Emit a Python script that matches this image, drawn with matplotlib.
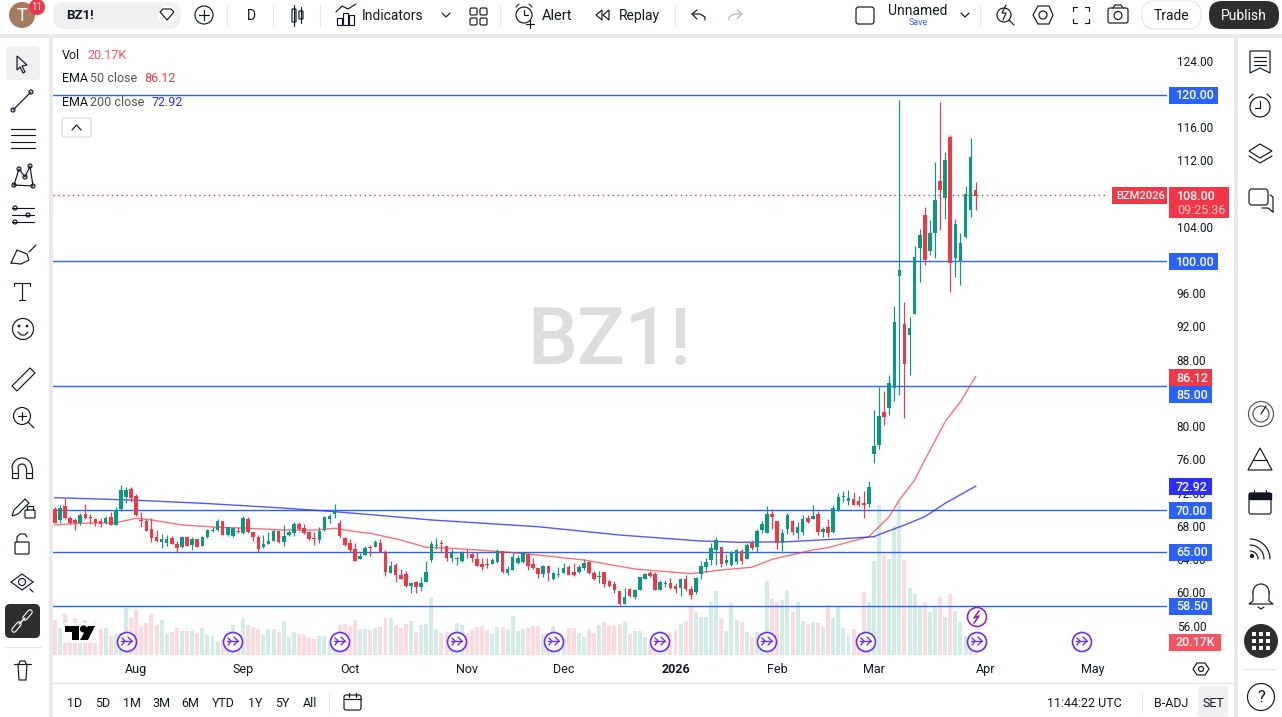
import matplotlib
matplotlib.use("Agg")
import matplotlib.pyplot as plt
import numpy as np
from matplotlib.patches import Circle, FancyBboxPatch, Polygon, Rectangle
from matplotlib.transforms import ScaledTranslation

plt.rcParams["font.family"] = ["Roboto", "DejaVu Sans"]

# ---------------- Chart data ----------------
highs = [
    70.38, 70.62, 71.46, 69.34, 69.06, 69.66, 70.78, 69.58, 69.06, 69.06,
    69.34, 69.82, 70.38, 73.07, 72.78, 72.78, 71.94, 69.86, 68.94, 69.06,
    67.65, 67.13, 67.05, 66.97, 66.29, 66.93, 66.97, 66.85, 66.57, 66.97,
    67.77, 68.05, 68.94, 68.73, 68.05, 68.05, 68.05, 69.38, 69.18, 67.41,
    67.05, 67.05, 67.41, 67.77, 67.57, 68.25, 67.65, 68.57, 68.57, 68.37,
    67.53, 67.41, 68.05, 69.34, 69.54, 70.78, 68.82, 66.81, 66.53, 66.05,
    64.89, 65.73, 65.81, 66.45, 66.57, 65.25, 63.89, 63.69, 62.93, 62.72,
    61.44, 61.52, 61.96, 63.93, 66.37, 66.65, 66.45, 65.73, 65.33, 64.45,
    65.09, 65.33, 64.85, 64.97, 64.25, 64.25, 64.25, 65.33, 65.13, 63.33,
    64.85, 64.65, 64.97, 64.85, 64.25, 63.05, 63.45, 63.33, 62.64, 63.25,
    63.73, 63.41, 63.65, 63.45, 64.13, 63.93, 62.72, 62.76, 62.60, 61.64,
    61.48, 60.32, 60.64, 60.68, 60.56, 62.04, 62.48, 62.68, 62.56, 61.60,
    61.68, 61.88, 61.32, 61.88, 62.24, 60.92, 61.96, 63.97, 64.33, 66.05,
    66.78, 65.61, 64.77, 65.13, 65.37, 65.37, 66.05, 66.46, 67.74, 68.70,
    70.51, 70.14, 68.74, 67.78, 69.70, 68.86, 68.66, 69.46, 69.42, 70.63,
    69.94, 68.02, 68.98, 70.63, 72.11, 72.35, 72.47, 72.23, 71.75, 72.31,
    73.55, 82.10, 84.91, 84.39, 86.31, 94.61, 119.40, 95.09, 93.29, 101.83,
    103.88, 106.52, 104.96, 111.94, 119.16, 113.14, 115.19, 105.08, 103.40, 109.05,
    114.83, 109.53,
]
lows = [
    68.45, 68.53, 68.94, 68.37, 67.65, 68.25, 69.02, 68.37, 68.13, 68.05,
    68.37, 68.25, 68.25, 69.98, 70.94, 71.02, 69.34, 67.97, 67.53, 66.25,
    66.25, 65.53, 65.73, 65.97, 65.01, 65.49, 65.73, 65.29, 65.57, 65.73,
    66.69, 67.37, 67.57, 67.05, 66.97, 66.81, 67.25, 67.21, 67.33, 66.37,
    65.01, 65.45, 65.97, 66.29, 66.13, 65.73, 66.93, 66.97, 67.57, 67.17,
    66.45, 65.85, 66.09, 67.53, 68.45, 69.10, 66.73, 65.73, 65.01, 63.92,
    64.16, 64.64, 64.52, 65.57, 64.97, 62.12, 62.44, 61.40, 61.72, 60.84,
    60.12, 60.12, 60.32, 61.40, 63.85, 65.37, 65.01, 63.97, 63.85, 63.45,
    63.85, 64.25, 63.85, 63.33, 62.89, 63.05, 63.53, 63.73, 62.48, 62.24,
    62.85, 63.57, 63.65, 62.89, 63.01, 61.92, 61.96, 61.52, 61.64, 61.96,
    62.48, 62.20, 62.12, 62.48, 62.85, 62.40, 61.64, 61.32, 60.84, 60.80,
    60.12, 58.63, 58.75, 59.56, 59.40, 60.40, 61.72, 62.04, 60.44, 60.44,
    60.84, 60.60, 60.04, 59.72, 60.36, 59.36, 60.00, 61.76, 62.64, 63.49,
    63.49, 63.25, 63.41, 63.29, 63.57, 63.57, 64.17, 65.25, 65.05, 67.34,
    67.34, 67.78, 65.37, 65.13, 67.14, 67.10, 66.58, 67.06, 68.50, 68.98,
    67.10, 66.82, 66.86, 67.30, 69.90, 71.03, 70.71, 70.63, 70.55, 69.14,
    70.43, 75.77, 77.41, 80.30, 81.50, 83.18, 83.90, 81.14, 86.31, 93.65,
    97.50, 99.55, 100.75, 100.39, 103.76, 105.08, 96.34, 98.10, 97.14, 102.80,
    105.32, 106.16,
]
opens = [
    70.14, 68.86, 70.54, 69.10, 68.85, 68.45, 69.58, 69.18, 68.98, 68.73,
    68.53, 69.22, 68.29, 70.14, 71.58, 72.62, 71.74, 68.86, 68.77, 67.77,
    66.81, 66.21, 66.05, 66.69, 65.97, 65.61, 66.85, 65.85, 66.57, 65.73,
    66.81, 67.57, 67.61, 68.73, 67.01, 66.89, 67.53, 67.29, 68.98, 67.41,
    66.81, 65.57, 65.97, 66.33, 67.53, 66.21, 67.01, 67.29, 68.37, 67.89,
    67.41, 66.69, 66.45, 67.61, 68.98, 69.58, 68.49, 66.69, 66.09, 65.33,
    64.16, 64.68, 65.57, 65.61, 66.09, 65.01, 62.48, 63.49, 62.24, 62.36,
    60.96, 61.44, 60.80, 61.40, 64.05, 65.73, 66.09, 65.73, 64.33, 64.21,
    63.97, 65.05, 64.77, 64.21, 63.57, 63.61, 63.61, 63.81, 65.13, 62.52,
    62.85, 63.73, 63.81, 64.73, 63.57, 63.05, 62.40, 63.33, 61.76, 62.28,
    62.52, 63.21, 62.64, 62.56, 63.09, 63.85, 62.48, 62.00, 62.60, 61.48,
    61.20, 60.32, 58.79, 60.56, 59.56, 60.48, 61.80, 62.48, 62.36, 60.48,
    61.12, 61.28, 60.92, 60.68, 61.76, 60.56, 60.16, 62.40, 63.21, 64.05,
    65.25, 65.61, 63.69, 63.49, 63.81, 65.13, 64.21, 66.14, 65.61, 67.66,
    67.34, 69.58, 68.74, 66.14, 67.78, 68.74, 67.30, 67.42, 69.06, 69.02,
    69.58, 67.42, 68.02, 67.42, 69.94, 71.63, 71.19, 71.39, 71.15, 70.91,
    70.79, 76.81, 77.89, 81.86, 82.34, 84.75, 98.22, 92.45, 91.12, 93.65,
    101.59, 105.56, 101.23, 103.40, 109.65, 107.61, 114.95, 100.39, 99.91, 102.92,
    106.16, 108.57,
]
closes = [
    68.53, 70.34, 69.06, 68.45, 68.45, 69.50, 69.10, 69.10, 68.45, 68.37,
    69.10, 68.29, 70.06, 72.46, 72.46, 71.50, 69.46, 68.77, 67.53, 66.69,
    66.33, 66.53, 66.57, 66.01, 65.53, 66.81, 65.77, 66.57, 65.61, 66.77,
    67.65, 67.65, 68.73, 67.09, 67.97, 67.93, 67.41, 69.10, 67.41, 66.81,
    65.41, 65.93, 66.29, 67.49, 66.21, 66.93, 67.41, 68.37, 67.73, 67.25,
    66.53, 66.61, 67.53, 69.22, 69.34, 70.06, 66.93, 65.85, 65.25, 63.92,
    64.52, 65.49, 65.45, 66.21, 65.01, 62.64, 63.33, 62.24, 61.76, 60.92,
    61.28, 60.76, 61.24, 62.60, 66.01, 65.85, 65.97, 64.29, 64.93, 64.29,
    64.85, 64.85, 64.29, 63.37, 63.21, 63.49, 64.05, 65.17, 62.56, 62.93,
    64.41, 64.25, 64.89, 63.37, 63.13, 62.40, 63.33, 62.44, 62.48, 62.36,
    63.09, 62.24, 62.24, 63.21, 63.69, 62.44, 61.80, 62.08, 61.16, 60.92,
    60.44, 58.75, 59.60, 59.68, 60.48, 62.00, 62.32, 62.12, 60.48, 61.40,
    61.28, 60.68, 60.60, 61.80, 60.60, 59.84, 61.92, 63.33, 63.81, 65.49,
    66.42, 63.61, 64.05, 65.01, 65.25, 63.93, 65.85, 65.49, 67.54, 68.38,
    69.58, 69.22, 66.14, 67.30, 69.46, 67.42, 68.02, 68.98, 68.62, 69.34,
    67.42, 67.78, 67.30, 70.31, 71.63, 71.75, 71.51, 70.71, 70.67, 70.71,
    72.83, 77.77, 81.38, 81.26, 85.35, 92.69, 98.95, 87.63, 91.97, 100.51,
    103.16, 100.15, 103.40, 107.37, 108.57, 112.18, 99.79, 104.48, 102.19, 108.09,
    112.54, 107.85,
]
volumes_k = [
    37.1, 28.6, 43.4, 31.8, 38.8, 26.5, 37.1, 33.5, 35.3, 27.5,
    28.6, 20.1, 22.2, 22.9, 49.8, 39.5, 48.7, 30.0, 34.2, 43.4,
    31.8, 37.1, 22.2, 24.4, 28.6, 25.4, 25.4, 25.4, 23.7, 28.6,
    21.2, 20.1, 13.8, 15.9, 25.4, 31.8, 21.2, 39.2, 31.8, 30.0,
    27.5, 21.2, 27.5, 27.5, 24.4, 36.0, 19.1, 24.4, 22.2, 21.2,
    18.0, 16.9, 20.1, 20.1, 15.9, 21.2, 31.8, 32.8, 30.7, 37.1,
    27.5, 27.5, 26.5, 28.6, 30.0, 39.2, 39.2, 31.8, 28.9, 32.8,
    36.0, 24.4, 31.8, 32.8, 61.4, 27.5, 22.9, 24.4, 21.2, 33.9,
    31.8, 22.9, 26.5, 29.7, 30.7, 26.5, 22.2, 29.7, 29.7, 27.5,
    41.3, 25.4, 27.5, 28.6, 30.7, 30.7, 22.2, 22.2, 30.7, 21.2,
    18.0, 28.9, 28.9, 23.3, 19.1, 27.5, 23.3, 31.8, 34.9, 30.7,
    30.7, 32.8, 36.0, 22.2, 25.4, 25.4, 19.1, 11.6, 15.9, 15.9,
    15.9, 22.9, 26.5, 32.8, 34.9, 50.8, 45.5, 40.2, 40.2, 56.1,
    67.8, 39.2, 25.4, 55.1, 37.1, 34.9, 24.4, 19.1, 24.4, 21.2,
    78.4, 59.3, 56.1, 58.2, 68.8, 45.5, 56.1, 36.0, 32.8, 34.9,
    33.9, 29.7, 53.0, 39.2, 50.8, 28.6, 21.2, 27.5, 15.9, 66.7,
    56.1, 99.5, 158.9, 105.9, 101.7, 136.6, 163.1, 100.6, 71.0, 64.6,
    51.9, 55.1, 45.5, 51.9, 61.4, 40.2, 64.6, 46.6, 34.9, 20.1,
    20.1, 20.17,
]

ema50_bars = [0, 5, 12, 16, 19, 25, 32, 38, 45, 51, 55, 60, 62, 68, 73, 78, 88, 95, 104, 114,
              125, 131, 137, 141, 149, 152, 160, 164, 166, 169, 171, 175, 178, 181]
ema50_vals = [68.26, 68.46, 68.53, 69.06, 68.86, 68.26, 67.98, 67.86, 67.65, 67.65, 67.86, 67.38,
              67.26, 66.45, 65.57, 65.45, 65.04, 64.64, 64.04, 62.96, 62.40, 62.84, 63.17, 64.13,
              65.25, 65.53, 66.85, 69.25, 71.26, 73.67, 76.08, 80.68, 83.09, 86.12]
ema200_bars = [0, 15, 29, 44, 55, 64, 74, 95, 111, 127, 135, 144, 154, 161, 164, 167, 171, 175, 181]
ema200_vals = [71.54, 71.26, 70.87, 70.33, 69.86, 69.40, 68.86, 68.05, 67.05, 66.33, 66.17, 66.24,
               66.57, 66.85, 67.57, 68.25, 69.25, 70.87, 72.92]

hline_prices = [120, 100, 85, 70, 65, 58.5]
last_price = 108.0
price_ticks = [56, 60, 64, 68, 72, 76, 80, 84, 88, 92, 96, 100, 104, 108, 112, 116, 120, 124]
month_bars = [16, 37, 58, 81, 100, 122, 142, 161, 183, 204]
month_labels = ["Aug", "Sep", "Oct", "Nov", "Dec", "2026", "Feb", "Mar", "Apr", "May"]

RED = "#F23645"
GREEN = "#089981"
BLUE = "#2962FF"
EMA_BLUE = "#2A2EFF"
INK = "#131722"
PURPLE = "#6A2CFF"

W, H = 1282, 717
fig = plt.figure(figsize=(W / 100, H / 100), dpi=100, facecolor="#E9E9E9")


def px_axes(left, top, right, bottom):
    return [left / W, 1 - bottom / H, (right - left) / W, (bottom - top) / H]


# ---------------- Panels ----------------
back = fig.add_axes([0, 0, 1, 1], zorder=0)
back.set_xlim(0, W)
back.set_ylim(H, 0)
back.axis("off")
for x0, y0, x1, y1 in [(0, 0, W, 34), (0, 38, 49, H), (53, 38, 1234, H), (1238, 38, W, H)]:
    back.add_patch(Rectangle((x0, y0), x1 - x0, y1 - y0, fc="white", ec="none"))
back.plot([53, 1234], [683, 683], color="#E0E3EB", lw=1)

# ---------------- Volume ----------------
vol_ax = fig.add_axes(px_axes(53, 38, 1167, 655), zorder=1)
vol_ax.axis("off")
bars = np.arange(len(closes))
up = np.array(closes) >= np.array(opens)
colors = [GREEN if u else RED for u in up]
vol_ax.bar(bars, volumes_k, width=0.78, color=colors, alpha=0.18, linewidth=0)
vol_ax.set_xlim(-0.35, 218.6)
vol_ax.set_ylim(0, 654)

# ---------------- Price ----------------
ax = fig.add_axes(px_axes(53, 38, 1167, 655), zorder=2)
ax.patch.set_alpha(0)
for spine in ax.spines.values():
    spine.set_visible(False)
ax.set_xlim(-0.35, 218.6)
ax.set_ylim(52.61, 126.86)
ax.text(0.499, 0.507, "BZ1!", transform=ax.transAxes, fontsize=57, fontweight="medium",
        color="#DDDDDD", ha="center", va="center", zorder=0)

for p in hline_prices:
    ax.axhline(p, color=BLUE, lw=1.0, zorder=3)
ax.plot([-0.35, 207], [last_price, last_price], color=RED, lw=1.0, ls=(0, (1, 2.5)), zorder=3)
ax.plot(ema50_bars, ema50_vals, color=RED, lw=1.0, alpha=0.7, zorder=4)
ax.plot(ema200_bars, ema200_vals, color=EMA_BLUE, lw=1.0, alpha=0.8, zorder=4)
ax.vlines(bars, lows, highs, colors=colors, lw=0.85, zorder=5)
body_low = np.minimum(opens, closes)
body_h = np.abs(np.array(closes) - np.array(opens))
ax.bar(bars, body_h, bottom=body_low, width=0.7, color=colors, linewidth=0, zorder=6)

ax.yaxis.tick_right()
ax.set_yticks(price_ticks)
ax.set_yticklabels([f"{p:.2f}" for p in price_ticks], fontsize=8.5, color=INK)
ax.tick_params(axis="y", length=0, pad=7)
lift = ScaledTranslation(0, 0.9 / 72, fig.dpi_scale_trans)
for label in ax.get_yticklabels():
    label.set_transform(label.get_transform() + lift)
ax.set_xticks(month_bars)
ax.set_xticklabels(month_labels, fontsize=9, color=INK)
ax.tick_params(axis="x", length=0, pad=5.5)
ax.get_xticklabels()[5].set_fontweight("bold")

# ---------------- Overlay (tags, legend, toolbars) ----------------
ui = fig.add_axes([0, 0, 1, 1], zorder=3)
ui.set_xlim(0, W)
ui.set_ylim(H, 0)
ui.axis("off")


def price_y(p):
    return H - ax.transData.transform((0, p))[1]


def txt(x, y, s, size=9, color=INK, ha="left", **kw):
    ui.text(x, y + 0.8, s, fontsize=size, color=color, ha=ha, va="center", **kw)


def line(xs, ys, c=INK, lw=0.85):
    ui.plot(xs, ys, color=c, lw=lw, solid_capstyle="round", solid_joinstyle="round")


def ring(x, y, r, ec=INK, fc="none", lw=0.85):
    ui.add_patch(Circle((x, y), r, ec=ec, fc=fc, lw=lw))


def rbox(x0, y0, x1, y1, fc="none", ec=INK, lw=0.85, rad=2):
    ui.add_patch(FancyBboxPatch((x0 + rad, y0 + rad), x1 - x0 - 2 * rad, y1 - y0 - 2 * rad,
                                boxstyle=f"round,pad={rad},rounding_size={rad}", fc=fc, ec=ec, lw=lw))


def tag(y, s, color, right):
    ui.add_patch(Rectangle((1169, y - 8.5), right - 1169, 17, fc=color, ec="none"))
    txt(1176, y, s, color="white", fontweight="medium")


# price tags
tag(price_y(120), "120.00", BLUE, 1218)
tag(price_y(100), "100.00", BLUE, 1218)
tag(377.5, "86.12", RED, 1212)
tag(394.5, "85.00", BLUE, 1212)
tag(price_y(72.92), "72.92", EMA_BLUE, 1212)
tag(price_y(70), "70.00", BLUE, 1212)
tag(price_y(65), "65.00", BLUE, 1212)
tag(price_y(58.5), "58.50", BLUE, 1212)
tag(642, "20.17K", "#F7525F", 1221)
ui.add_patch(Rectangle((1112, 187), 55, 17, fc=RED, ec="none"))
txt(1116.5, 195.5, "BZM2026", size=8, color="white", fontweight="medium")
ui.add_patch(Rectangle((1169, 187), 60, 31, fc=RED, ec="none"))
txt(1177, 195.5, "108.00", color="white", fontweight="medium")
txt(1177, 209.5, "09:25:36", color="#FFD0D4")

# legend
txt(62, 55, "Vol", size=9)
txt(87, 55, "20.17K", size=9, color="#F7525F")
txt(62, 78, "EMA", size=9)
txt(90, 78, "50 close", size=9, color="#555555")
txt(144, 78, "86.12", size=9, color=RED)
txt(62, 102, "EMA", size=9)
txt(90, 102, "200 close", size=9, color="#555555")
txt(151, 102, "72.92", size=9, color=EMA_BLUE)
rbox(62, 118, 91, 137, ec="#D8DAE0")
line([72, 76.5, 81], [130, 125, 130])

# TradingView logo
ui.add_patch(Rectangle((63, 623), 34, 20, fc="white", ec="none", alpha=0.9))
ui.add_patch(Polygon([(65, 626), (79, 626), (79, 640), (72, 640), (72, 632), (65, 632)], fc="black"))
ring(83.5, 629, 3, ec="black", fc="black")
ui.add_patch(Polygon([(88, 626), (95, 626), (88, 640), (80, 640)], fc="black"))

# event markers on the time scale
for x in [127, 233, 340, 457, 554, 660, 767, 866, 977, 1082]:
    ring(x, 642, 9.5, ec=PURPLE, fc="white", lw=1.2)
    line([x - 6, x + 5], [641, 641], PURPLE, 1.0)
    line([x + 1, x + 5, x + 1], [637, 641, 645], PURPLE, 1.0)
    line([x - 5, x - 2, x - 5], [638, 641, 645], PURPLE, 1.0)
ring(977, 617, 9.5, ec="#9C27B0", fc="white", lw=1.2)
line([979, 974, 979, 974], [611, 618, 616, 623], "#9C27B0", 1.2)

# settings cog under price scale
ui.add_patch(Polygon([(1193, 669), (1197, 663), (1205, 663), (1209, 669), (1205, 675), (1197, 675)],
                     fc="none", ec=INK, lw=0.85))
ring(1201, 669, 2.5)

# header
ring(22, 15, 13, ec="none", fc="#A57A5E")
txt(22, 15, "T", size=13, color="white", ha="center")
ring(37, 7, 8, ec="none", fc=RED)
txt(37, 6.5, "11", size=7, color="white", ha="center")
rbox(53, 2, 181, 29, fc="#F0F0F0", ec="none", rad=12)
ring(167, 15, 9, ec="none", fc="white")
ui.add_patch(Polygon([(160, 12), (163, 9), (171, 9), (174, 12), (167, 20)], fc="none", ec=INK, lw=0.85))
txt(66, 15, "BZ1!", size=9.5, fontweight="bold")
ring(204, 15, 9)
line([199, 209], [15, 15])
line([204, 204], [10, 20])
for x in [227, 273, 320, 500, 675, 980]:
    line([x, x], [5, 26], "#E6E6E6", 0.8)
txt(251, 15, "D", size=10, ha="center")
rbox(292, 9, 296, 22, rad=0.5)
line([294, 294], [5, 26])
rbox(299, 11, 303, 19, rad=0.5)
line([301, 301], [7, 23])
line([336, 342, 348, 356], [12, 6, 9, 4])
for x0, y0 in [(337, 18), (343, 13), (349, 15)]:
    ui.add_patch(Rectangle((x0, y0), 5, 25 - y0, fc="none", ec=INK, lw=0.85))
txt(362, 15, "Indicators", size=10)
line([442, 446, 450], [13, 17, 13])
for x0 in (470, 480):
    for y0 in (8, 18):
        rbox(x0, y0, x0 + 7, y0 + 7, rad=1.5)
ring(524, 15, 8)
line([524, 524, 528], [10, 15, 15])
line([516, 519], [7, 4])
line([532, 529], [7, 4])
line([526, 534], [24, 24])
line([530, 530], [20, 28])
txt(542, 15, "Alert", size=10.5)
ui.add_patch(Polygon([(602, 10), (596, 15), (602, 20)], fc="none", ec=INK, lw=0.85))
ui.add_patch(Polygon([(609, 10), (603, 15), (609, 20)], fc="none", ec=INK, lw=0.85))
txt(619, 15, "Replay", size=10)
line([697, 692, 697], [10, 14, 19])
line([692, 700, 705, 705], [14, 14, 17, 20])
line([737, 742, 737], [10, 14, 19], "#B2B5BE")
line([742, 734, 729, 729], [14, 14, 17, 20], "#B2B5BE")
rbox(856, 7, 874, 24, rad=2.5)
txt(918, 10, "Unnamed", size=10, ha="center")
txt(918, 22, "Save", size=6.5, color=BLUE, ha="center")
line([961, 965, 969], [13, 17, 13])
ring(1004, 15, 7)
line([1009, 1014], [20, 25])
line([1006, 1002, 1006, 1003], [5, 13, 13, 20])
ui.add_patch(Polygon([(1033, 15), (1038, 6), (1049, 6), (1053, 15), (1049, 24), (1038, 24)],
                     fc="none", ec=INK, lw=0.85))
ring(1043, 15, 4)
for xs, ys in [([1073, 1073, 1077], [11, 7, 7]), ([1085, 1089, 1089], [7, 7, 11]),
               ([1089, 1089, 1085], [19, 23, 23]), ([1077, 1073, 1073], [23, 23, 19])]:
    line(xs, ys)
rbox(1108, 8, 1128, 23, rad=2)
ring(1118, 15.5, 4)
line([1113, 1115, 1121, 1123], [8, 5, 5, 8])
rbox(1142, 1, 1201, 29, fc="white", ec="#E6E6E6", rad=13)
txt(1171.5, 15, "Trade", size=10, ha="center")
rbox(1209, 1, 1279, 29, fc="#2E2E2E", ec="none", rad=13)
txt(1244, 15, "Publish", size=10, color="white", ha="center")

# left toolbar
rbox(6, 46, 40, 80, fc="#F0F0F0", ec="none", rad=4)
ui.add_patch(Polygon([(17, 56), (27, 65), (22, 66), (25, 72), (23, 73), (20, 67), (17, 70)],
                     fc="none", ec=INK, lw=0.85))
line([13, 31], [110, 92])
ring(13, 110, 2, fc="white")
ring(31, 92, 2, fc="white")
for y in (129, 135, 142, 148):
    line([11, 35], [y, y])
line([14, 19, 25, 30, 33, 14], [185, 169, 177, 166, 186, 185])
for x, y in [(14, 185), (19, 169), (25, 177), (30, 166), (33, 186)]:
    ring(x, y, 2, fc="white")
for y in (208, 215, 222):
    line([12, 34], [y, y], lw=0.85)
    ring(15 if y != 215 else 28, y, 2, fc="white")
line([11, 17, 27, 29, 21, 11], [263, 250, 254, 260, 264, 263])
line([29, 36], [252, 245])
line([14, 30], [283, 283])
line([22, 22], [283, 300])
line([19, 25], [300, 300])
line([14, 14], [283, 286])
line([30, 30], [283, 286])
ring(23, 329, 10.5)
ring(19, 326, 0.8, fc=INK)
ring(27, 326, 0.8, fc=INK)
line([18, 21, 25, 28], [332, 335, 335, 332])
ui.add_patch(Polygon([(12, 386), (30, 368), (35, 373), (17, 391)], fc="none", ec=INK, lw=0.85))
ring(22, 416, 8.5)
line([28, 34], [422, 428])
line([18, 26], [416, 416])
line([22, 22], [412, 420])
# magnet
arc = np.radians(np.linspace(180, 360, 24))
line(22 + 10 * np.cos(arc), 468 + 10 * np.sin(arc))
line(22 + 4 * np.cos(arc), 468 + 4 * np.sin(arc))
line([12, 12, 18, 18], [468, 478, 478, 468])
line([26, 26, 32, 32], [468, 478, 478, 468])
line([12, 18], [473, 473])
line([26, 32], [473, 473])
# pencil with lock
ui.add_patch(Polygon([(12, 516), (14, 510), (25, 499), (29, 503), (18, 514)], fc="none", ec=INK, lw=0.85))
rbox(25, 510, 35, 518, rad=1)
line([27, 27, 33, 33], [510, 506, 506, 510])
rbox(15, 542, 29, 554, rad=1)
line([17, 17, 20, 25, 27], [542, 537, 534, 534, 537])
ring(22, 582, 3.5)
line([11, 22, 33], [582, 574, 582])
line([11, 22, 33], [582, 590, 582])
line([30, 33], [589, 592])
# link (active)
rbox(5, 604, 40, 638, fc="#2E2E2E", ec="none", rad=5)
line([14, 19], [630, 624], "white", 4.0)
line([14, 19], [630, 624], "#2E2E2E", 2.4)
line([25, 30], [618, 612], "white", 4.0)
line([25, 30], [618, 612], "#2E2E2E", 2.4)
line([19, 25], [624, 618], "white", 1.0)
line([5, 41], [647, 647], "#E6E6E6", 0.8)
line([14, 31], [664, 664])
line([18, 19, 26, 27], [664, 680, 680, 664])
line([19, 20, 25, 26], [664, 661, 661, 664])

# right toolbar
ui.add_patch(Polygon([(1250, 51), (1270, 51), (1270, 73), (1260, 68), (1250, 73)], fc="none", ec=INK, lw=0.85))
for y in (57, 61, 65):
    line([1254, 1266], [y, y])
ring(1260, 107, 10)
line([1260, 1260, 1255], [101, 108, 108])
line([1249, 1253], [98, 94])
line([1271, 1267], [98, 94])
ui.add_patch(Polygon([(1249, 151), (1260, 144), (1272, 151), (1260, 158)], fc="none", ec=INK, lw=0.85))
line([1249, 1260, 1272], [156, 163, 156])
rbox(1249, 189, 1268, 205, rad=3)
line([1270, 1273, 1273], [195, 197, 212])
line([1262, 1268, 1273], [208, 208, 212])
ring(1261, 414, 12.5, ec="#555555")
ring(1261, 414, 8, ec="#555555")
line([1261, 1266], [414, 406])
ui.add_patch(Polygon([(1260, 448), (1272, 470), (1248, 470)], fc="none", ec=INK, lw=0.85))
line([1253, 1267], [460, 460])
rbox(1249, 493, 1271, 514, rad=2)
ui.add_patch(Rectangle((1249, 493), 22, 6, fc=INK, ec=INK))
for x in (1254, 1266):
    line([x, x], [490, 495])
for r in (8, 14, 20):
    theta = np.radians(np.linspace(-90, 0, 12))
    line(1250 + r * np.cos(theta), 559 + r * np.sin(theta))
ring(1252, 556, 1.5, fc=INK)
ring(1261, 592, 8)
ui.add_patch(Rectangle((1253, 592), 16, 9, fc="white", ec="none"))
line([1253, 1253, 1249, 1273, 1269, 1269], [592, 601, 604, 604, 601, 592])
line([1258, 1261, 1264], [607, 609, 607])
ring(1261, 641, 17, ec="none", fc="#2E2E2E")
for dx in (-7, 0, 7):
    for dy in (-7, 0, 7):
        ui.add_patch(Rectangle((1261 + dx - 2.2, 641 + dy - 2.2), 4.4, 4.4, fc="white", ec="none"))
line([1244, 1276], [669, 669], "#E6E6E6", 0.8)
ring(1261, 697, 13.5)
txt(1261, 697, "?", size=12, ha="center")

# bottom bar
for x, s in zip([75, 103, 132, 161, 190, 223, 255, 282, 310],
                ["1D", "5D", "1M", "3M", "6M", "YTD", "1Y", "5Y", "All"]):
    txt(x, 703, s, size=9, ha="center")
line([329, 329], [692, 712], "#E6E6E6", 0.8)
rbox(344, 695, 361, 710, rad=2)
line([344, 361], [699, 699])
line([349, 349], [693, 697])
line([356, 356], [693, 697])
txt(1084, 703, "11:44:22 UTC", size=9, ha="center")
line([1142, 1142], [692, 712], "#E6E6E6", 0.8)
txt(1171, 703, "B-ADJ", size=9, ha="center")
rbox(1198, 686, 1228, 717, fc="#F0F0F0", ec="none", rad=4)
txt(1213, 703, "SET", size=9, ha="center")

fig.savefig("out.png", dpi=100, facecolor=fig.get_facecolor())
